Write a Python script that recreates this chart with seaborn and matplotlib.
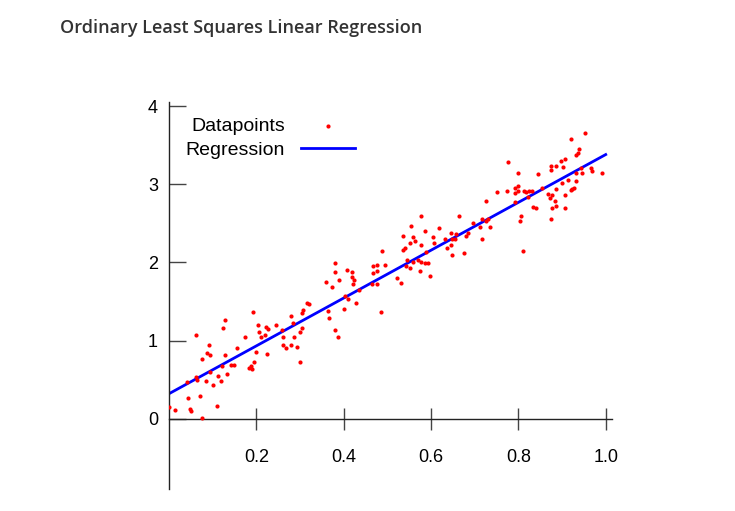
import matplotlib
matplotlib.use('Agg')
from matplotlib import pyplot as plt
import numpy as np
import pandas as pd
import seaborn as sns

# datapoints
x_vals = [0.00, 0.014, 0.044, 0.048, 0.05, 0.076, 0.072, 0.109, 0.04, 0.061, 0.065, 0.084, 0.101,
          0.075, 0.061, 0.092, 0.088, 0.094, 0.094, 0.113, 0.119, 0.121, 0.127, 0.124, 0.128, 0.132,
          0.143, 0.149, 0.155, 0.175, 0.182, 0.187, 0.191, 0.195, 0.193, 0.199, 0.203, 0.205, 0.211,
          0.222, 0.226, 0.224, 0.220, 0.246, 0.258, 0.262, 0.260, 0.268, 0.279, 0.292, 0.300, 0.287,
          0.300, 0.304, 0.305, 0.307, 0.279, 0.315, 0.320, 0.284, 0.363, 0.366, 0.381, 0.387, 0.359,
          0.374, 0.401, 0.403, 0.410, 0.429, 0.422,
          0.485, 0.380, 0.380, 0.390, 0.407, 0.418, 0.418, 0.424, 0.435, 0.466, 0.477, 0.477, 0.467,
          0.465, 0.477, 0.487, 0.494, 0.522, 0.532, 0.542, 0.551, 0.545, 0.536, 0.541, 0.535, 0.554,
          0.551, 0.559, 0.563, 0.559, 0.570, 0.576, 0.574, 0.578, 0.578, 0.586, 0.588, 0.586, 0.592,
          0.597, 0.605, 0.607, 0.618, 0.633, 0.637, 0.645, 0.647, 0.654, 0.657, 0.649, 0.645, 0.664,
          0.676, 0.681, 0.685, 0.696, 0.712, 0.716, 0.716, 0.725, 0.731, 0.736, 0.727,
          0.750, 0.773, 0.776, 0.811, 0.792, 0.792, 0.799, 0.799, 0.799, 0.803, 0.807, 0.792, 0.813,
          0.817, 0.824, 0.832, 0.821, 0.834, 0.840, 0.845, 0.855, 0.868, 0.872, 0.876, 0.874, 0.878,
          0.874, 0.874, 0.887, 0.887, 0.885, 0.887, 0.897, 0.902, 0.906, 0.901, 0.906, 0.906, 0.914,
          0.920, 0.923, 0.927, 0.931, 0.931, 0.933, 0.937, 0.938, 0.921, 0.952, 0.944, 0.946, 0.967,
          0.969, 0.991]
y_vals = [0.15, 0.11, 0.26, 0.13, 0.10, 0.01, 0.29, 0.16, 0.47, 0.53, 0.49, 0.48, 0.43,
          0.77, 1.07, 0.94, 0.84, 0.82, 0.60, 0.55, 0.48, 0.68, 0.82, 1.16, 1.26, 0.57,
          0.69, 0.69, 0.90, 1.05, 0.65, 0.67, 0.63, 0.73, 1.37, 0.85, 1.20, 1.11, 1.04,
          1.17, 1.15, 0.83, 1.07, 1.20, 1.13, 1.05, 0.94, 0.90, 0.94, 0.92, 0.73, 1.04,
          1.11, 1.16, 1.35, 1.39, 1.32, 1.48, 1.47, 1.23, 1.38, 1.29, 1.14, 1.05, 1.75,
          1.69, 1.40, 1.57, 1.53, 1.48, 1.73,
          1.36, 1.99, 1.88, 1.78, 1.90, 1.88, 1.81, 1.77, 1.65, 1.95, 1.97, 1.89, 1.86,
          1.72, 1.72, 2.15, 1.97, 1.80, 1.74, 1.95, 1.93, 2.03, 2.16, 2.19, 2.34, 2.47,
          2.25, 2.32, 2.28, 2.01, 2.03, 2.01, 1.89, 2.22, 2.60, 2.40, 2.13, 1.99, 1.99,
          1.82, 2.32, 2.25, 2.44, 2.30, 2.19, 2.38, 2.30, 2.30, 2.36, 2.10, 2.22, 2.60,
          2.12, 2.34, 2.38, 2.50, 2.45, 2.56, 2.30, 2.53, 2.55, 2.45, 2.78,
          2.90, 2.91, 3.29, 2.15, 2.95, 2.89, 2.98, 2.91, 3.15, 2.53, 2.60, 2.77, 2.92,
          2.90, 2.92, 2.92, 2.84, 2.71, 2.69, 3.13, 2.95, 2.88, 2.82, 2.69, 2.56, 2.86,
          3.23, 3.18, 3.23, 2.94, 2.78, 2.72, 3.30, 3.22, 3.32, 3.01, 2.86, 2.69, 3.05,
          2.93, 2.94, 2.95, 3.04, 3.15, 3.38, 3.40, 3.45, 3.58, 3.66, 3.21, 3.14, 3.21,
          3.17, 3.14]
reg_x = [0.0, 1.0]
reg_y = [0.32, 3.38]

df = pd.DataFrame({'x': x_vals, 'y': y_vals})
reg_df = pd.DataFrame({'x': reg_x, 'y': reg_y})

fig = plt.figure(figsize=(7.35, 5.11), dpi=100)
ax = fig.add_axes([0.23, 0.043, 0.603, 0.757])

sns.scatterplot(data=df, x='x', y='y', ax=ax, color='red', s=9, linewidth=0,
                label='Datapoints', zorder=3)
sns.lineplot(data=reg_df, x='x', y='y', ax=ax, color='blue', linewidth=2,
             label='Regression', zorder=2)

ax.set_xlim(0, 1.015)
ax.set_ylim(-0.9, 4.05)
ax.spines['left'].set_position(('data', 0))
ax.spines['bottom'].set_position(('data', 0))
ax.spines['top'].set_visible(False)
ax.spines['right'].set_visible(False)
for s in ['left', 'bottom']:
    ax.spines[s].set_color('#222222')
    ax.spines[s].set_linewidth(1)
ax.spines['left'].set_bounds(-0.9, 4.05)

ax.set_xticks([0.2, 0.4, 0.6, 0.8, 1.0])
ax.set_xticklabels(['0.2', '0.4', '0.6', '0.8', '1.0'])
ax.set_yticks([0, 1, 2, 3, 4])
ax.tick_params(axis='x', direction='inout', length=16, width=1, color='#444444',
               labelsize=13, pad=14)
ax.tick_params(axis='y', direction='in', length=12, width=1, color='#444444',
               labelsize=13, pad=8)
for lab in ax.get_xticklabels() + ax.get_yticklabels():
    lab.set_fontfamily('Liberation Sans')
ax.set_xlabel('')
ax.set_ylabel('')

leg = ax.legend(loc='upper left', bbox_to_anchor=(0.02, 0.98), frameon=False,
                markerfirst=False, fontsize=14, handlelength=2.8, markerscale=1.0,
                borderaxespad=0, labelspacing=0.3, prop={'family': 'Liberation Sans', 'size': 14})
for t in leg.get_texts():
    t.set_ha('right')

fig.text(60 / 735, 1 - 28 / 511, 'Ordinary Least Squares Linear Regression', fontsize=13,
         fontweight='semibold', color='#333333', family='Open Sans', va='center', ha='left')

fig.savefig('out.png', dpi=100)
